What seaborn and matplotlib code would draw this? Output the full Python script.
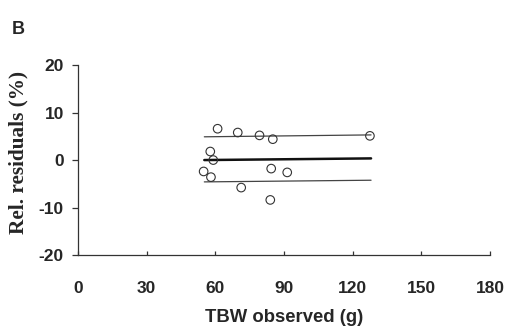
import matplotlib
matplotlib.use("Agg")
import matplotlib.pyplot as plt
import seaborn as sns
import pandas as pd

# Observed total body water (g) and relative residuals (%)
tbw_observed = [61.0, 69.8, 79.3, 85.1, 127.5, 57.8, 59.1, 54.9, 58.1, 84.4, 91.4, 71.3, 84.0]
rel_residuals = [6.6, 5.8, 5.2, 4.4, 5.1, 1.8, 0.0, -2.4, -3.6, -1.8, -2.6, -5.8, -8.4]

# Mean trend line and its upper/lower limits, given at the ends of the observed range
line_x = [55.2, 128.0]
mean_line = [0.0, 0.35]
upper_line = [4.9, 5.3]
lower_line = [-4.6, -4.25]

x_ticks = [0, 30, 60, 90, 120, 150, 180]
y_ticks = [-20, -10, 0, 10, 20]

sns.set_style("white")
plt.rcParams["font.family"] = ["Liberation Sans", "DejaVu Sans"]

fig = plt.figure(figsize=(5.09, 3.29), dpi=100)
ax = fig.add_axes([0.153, 0.225, 0.81, 0.577])

points = pd.DataFrame({"tbw": tbw_observed, "res": rel_residuals})
lines = pd.DataFrame({
    "tbw": line_x * 3,
    "val": upper_line + mean_line + lower_line,
    "kind": ["upper"] * 2 + ["mean"] * 2 + ["lower"] * 2,
})

sns.lineplot(data=lines[lines.kind == "upper"], x="tbw", y="val", ax=ax,
             color="#444444", linewidth=0.9)
sns.lineplot(data=lines[lines.kind == "lower"], x="tbw", y="val", ax=ax,
             color="#444444", linewidth=0.9)
sns.lineplot(data=lines[lines.kind == "mean"], x="tbw", y="val", ax=ax,
             color="#111111", linewidth=1.8)
sns.scatterplot(data=points, x="tbw", y="res", ax=ax, s=38,
                facecolor="none", edgecolor="#333333", linewidth=0.8, zorder=3)

ax.set_xlim(0, 180)
ax.set_ylim(-20, 20)
ax.set_xticks(x_ticks)
ax.set_yticks(y_ticks)
ax.set_xticklabels([str(t) for t in x_ticks], fontsize=12.5, fontweight="bold")
ax.set_yticklabels([str(t) for t in y_ticks], fontsize=12.5, fontweight="bold")

for side in ("top", "right"):
    ax.spines[side].set_visible(False)
for side in ("left", "bottom"):
    ax.spines[side].set_color("#333333")
    ax.spines[side].set_linewidth(0.9)

ax.tick_params(axis="y", direction="out", length=4, width=0.9, color="#333333",
               pad=6, left=True)
ax.tick_params(axis="x", direction="in", length=3, width=0.9, color="#333333",
               pad=19, bottom=True)

ax.set_xlabel("TBW observed (g)", fontsize=13.3, fontweight="bold", labelpad=9)
ax.set_ylabel("Rel. residuals (%)", fontsize=15.3, fontweight="bold",
              family=["Liberation Serif", "DejaVu Serif"])
ax.yaxis.set_label_coords(-0.12, 0.54)

fig.text(0.023, 0.898, "B", fontsize=13, fontweight="bold")

fig.savefig("out.png", dpi=100)
